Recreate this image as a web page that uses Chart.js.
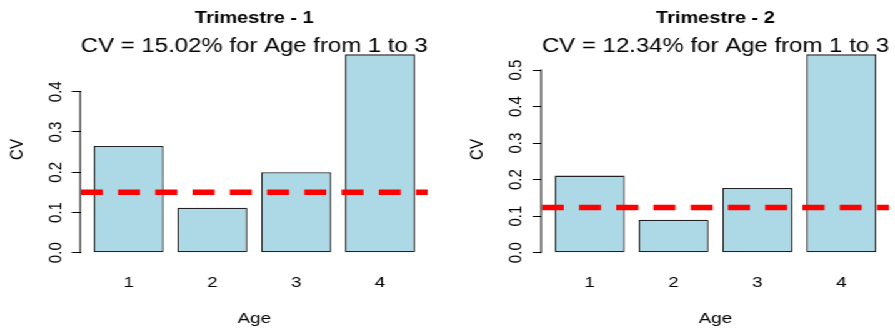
<!DOCTYPE html>
<html>
<head>
<meta charset="utf-8">
<script src="https://cdn.jsdelivr.net/npm/chart.js"></script>
<style>
  body { margin: 0; background: #fff; }
  /* the reference is stretched sideways, so the two charts are too */
  #wrap { width: 716px; height: 329px; display: flex; transform: scaleX(1.25); transform-origin: 0 0; }
  canvas { display: block; }
</style>
</head>
<body>
<div id="wrap">
  <canvas id="t1" width="358" height="329"></canvas>
  <canvas id="t2" width="358" height="329"></canvas>
</div>
<script>
const ages = ['1', '2', '3', '4'];
const cvTrim1 = [0.265, 0.112, 0.200, 0.493];
const cvTrim2 = [0.211, 0.090, 0.177, 0.543];
const meanTrim1 = 0.1502;
const meanTrim2 = 0.1234;
const yTicksTrim1 = [0, 0.1, 0.2, 0.3, 0.4];
const yTicksTrim2 = [0, 0.1, 0.2, 0.3, 0.4, 0.5];
const titles = ['Trimestre - 1', 'Trimestre - 2'];

Chart.defaults.font.family = "'Liberation Sans', Arial, sans-serif";
Chart.defaults.color = '#000';

// barplot layout like R: width 1, space 0.2, axis range widened 4%
const mids = ages.map((a, i) => 0.7 + 1.2 * i);
const barsLo = 0.2, barsHi = 1.2 * ages.length;
const xmin = barsLo - 0.04 * (barsHi - barsLo);
const xmax = barsHi + 0.04 * (barsHi - barsLo);

// R draws the y axis line only from first to last tick
const axisLine = {
  id: 'axisLine',
  afterDraw(chart) {
    const y = chart.scales.y, ctx = chart.ctx;
    const t = y.ticks;
    ctx.save();
    ctx.strokeStyle = '#000';
    ctx.lineWidth = 1;
    ctx.beginPath();
    ctx.moveTo(y.right - 0.5, y.getPixelForValue(t[0].value) + 0.5);
    ctx.lineTo(y.right - 0.5, y.getPixelForValue(t[t.length - 1].value) - 0.5);
    ctx.stroke();
    ctx.restore();
  }
};

function makeChart(id, values, mean, yTicks, title, padLeft, axisW, padRight) {
  const ymax = Math.max(...values) * (1 + 0.04 * 1.01);
  return new Chart(document.getElementById(id), {
    type: 'bar',
    data: {
      datasets: [{
        type: 'line',
        data: [{x: xmin, y: mean}, {x: xmax, y: mean}],
        borderColor: '#ff0000',
        borderWidth: 5.5,
        borderDash: [17.6, 12.2],
        pointRadius: 0,
        order: 1
      }, {
        data: values.map((v, i) => ({x: mids[i], y: v})),
        backgroundColor: '#add8e6',
        borderColor: '#222',
        borderWidth: 1.3,
        borderSkipped: false,
        categoryPercentage: 1,
        barPercentage: 1 / 1.2,
        order: 2
      }]
    },
    options: {
      responsive: false,
      animation: false,
      layout: { padding: { left: padLeft, right: padRight, top: 0, bottom: 0 } },
      plugins: {
        legend: { display: false },
        tooltip: { enabled: false },
        title: {
          display: true, text: title, fullSize: false,
          font: { size: 16, weight: 'bold' },
          padding: { top: 8.6, bottom: 6.6 }
        },
        subtitle: {
          display: true, fullSize: false,
          text: 'CV = ' + (mean * 100).toFixed(2) + '% for Age from 1 to 3',
          font: { size: 19.6 },
          padding: { top: 0, bottom: -11.6 }
        }
      },
      scales: {
        x: {
          type: 'linear', min: xmin, max: xmax, offset: false,
          grid: { display: false, drawTicks: false },
          border: { display: false },
          afterBuildTicks: s => { s.ticks = mids.map(v => ({value: v})); },
          afterFit: s => { s.height = 76.3; },
          ticks: { autoSkip: false, maxRotation: 0, padding: 21.6, font: { size: 15 },
                   callback: (v, i) => ages[i] },
          title: { display: true, text: 'Age', font: { size: 15 }, padding: { top: 0, bottom: 1.5 } }
        },
        y: {
          min: 0, max: ymax,
          afterBuildTicks: s => { s.ticks = yTicks.map(v => ({value: v})); },
          afterFit: s => { s.width = axisW; },
          grid: { drawOnChartArea: false, tickLength: 7.2, color: '#000' },
          border: { display: false },
          ticks: { minRotation: 90, maxRotation: 90, crossAlign: 'center', padding: 2.5,
                   font: { size: 15 }, callback: v => v.toFixed(1) },
          title: { display: true, text: 'CV', font: { size: 15 }, padding: { top: 5, bottom: 0 } }
        }
      }
    },
    plugins: [axisLine]
  });
}

makeChart('t1', cvTrim1, meanTrim1, yTicksTrim1, titles[0], 0, 64.6, 15.8);
makeChart('t2', cvTrim2, meanTrim2, yTicksTrim2, titles[1], 10, 65.4, 4.6);
</script>
</body>
</html>
